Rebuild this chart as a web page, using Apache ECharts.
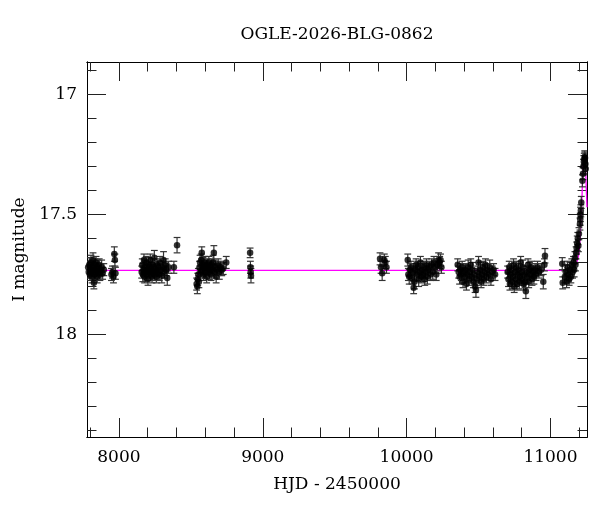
<!DOCTYPE html>
<html lang="en">
<head>
    <meta charset="UTF-8">
    <script src="https://cdn.jsdelivr.net/npm/echarts@6.0.0/dist/echarts.min.js"></script>
    <style>
        html, body { margin: 0; padding: 0; background: #fff; }
        #chart { width: 600px; height: 512px; }
    </style>
</head>
<body>
<div id="chart"></div>
<script>
    // photometry per season: [HJD - 2450000, I mag, error]
    var season1 = [
        [7786, 17.72, 0.025], [7790, 17.74, 0.025], [7794, 17.71, 0.03], [7798, 17.75, 0.025],
        [7802, 17.73, 0.025], [7806, 17.70, 0.03], [7809, 17.74, 0.025], [7813, 17.76, 0.025],
        [7817, 17.72, 0.025], [7820, 17.69, 0.03], [7824, 17.73, 0.025], [7826, 17.785, 0.025],
        [7830, 17.75, 0.025], [7834, 17.71, 0.025], [7837, 17.74, 0.03], [7841, 17.70, 0.025],
        [7845, 17.73, 0.025], [7849, 17.76, 0.025], [7853, 17.72, 0.03], [7858, 17.74, 0.025],
        [7863, 17.71, 0.025], [7868, 17.75, 0.025], [7874, 17.73, 0.025], [7880, 17.72, 0.03],
        [7887, 17.745, 0.025], [7895, 17.73, 0.025], [7948, 17.75, 0.025], [7955, 17.74, 0.025],
        [7962, 17.76, 0.025], [7968, 17.665, 0.03], [7972, 17.69, 0.025], [7976, 17.745, 0.025]
    ];
    var season2 = [
        [8158, 17.74, 0.025], [8162, 17.71, 0.025], [8166, 17.75, 0.03], [8170, 17.73, 0.025],
        [8174, 17.69, 0.025], [8178, 17.76, 0.025], [8182, 17.72, 0.03], [8186, 17.74, 0.025],
        [8190, 17.70, 0.025], [8194, 17.75, 0.025], [8198, 17.73, 0.025], [8202, 17.77, 0.025],
        [8206, 17.71, 0.03], [8210, 17.74, 0.025], [8214, 17.72, 0.025], [8218, 17.69, 0.025],
        [8222, 17.75, 0.025], [8226, 17.73, 0.03], [8230, 17.76, 0.025], [8234, 17.71, 0.025],
        [8238, 17.74, 0.025], [8242, 17.72, 0.025], [8246, 17.68, 0.03], [8250, 17.75, 0.025],
        [8255, 17.73, 0.025], [8260, 17.76, 0.025], [8265, 17.71, 0.025], [8270, 17.74, 0.03],
        [8275, 17.72, 0.025], [8280, 17.75, 0.025], [8286, 17.70, 0.025], [8292, 17.73, 0.025],
        [8298, 17.755, 0.03], [8304, 17.72, 0.025], [8310, 17.69, 0.035], [8316, 17.74, 0.025],
        [8322, 17.71, 0.025], [8328, 17.73, 0.025], [8336, 17.765, 0.03], [8345, 17.72, 0.025],
        [8382, 17.72, 0.025], [8404, 17.628, 0.032]
    ];
    var season3 = [
        [8540, 17.79, 0.025], [8545, 17.80, 0.03], [8548, 17.77, 0.025], [8552, 17.75, 0.025],
        [8556, 17.78, 0.025], [8560, 17.72, 0.025], [8564, 17.70, 0.03], [8568, 17.74, 0.025],
        [8572, 17.69, 0.025], [8576, 17.66, 0.025], [8580, 17.73, 0.025], [8584, 17.71, 0.03],
        [8588, 17.75, 0.025], [8592, 17.72, 0.025], [8596, 17.70, 0.025], [8600, 17.74, 0.025],
        [8605, 17.72, 0.03], [8610, 17.76, 0.025], [8615, 17.71, 0.025], [8620, 17.73, 0.025],
        [8625, 17.70, 0.025], [8630, 17.74, 0.03], [8635, 17.72, 0.025], [8640, 17.75, 0.025],
        [8645, 17.71, 0.025], [8650, 17.73, 0.025], [8655, 17.70, 0.03], [8660, 17.66, 0.03],
        [8665, 17.74, 0.025], [8670, 17.72, 0.025], [8676, 17.76, 0.025], [8682, 17.73, 0.025],
        [8690, 17.71, 0.025], [8698, 17.74, 0.03], [8706, 17.72, 0.025], [8715, 17.73, 0.025],
        [8725, 17.725, 0.025], [8746, 17.70, 0.025]
    ];
    var season4 = [
        [8912, 17.66, 0.02], [8914, 17.72, 0.025], [8916, 17.74, 0.025], [8918, 17.755, 0.03]
    ];
    var season5 = [
        [9815, 17.685, 0.025], [9822, 17.72, 0.025], [9830, 17.745, 0.03],
        [9845, 17.69, 0.025], [9852, 17.70, 0.025], [9860, 17.72, 0.025]
    ];
    var season6 = [
        [10008, 17.69, 0.025], [10012, 17.75, 0.025], [10018, 17.76, 0.03], [10024, 17.73, 0.025],
        [10030, 17.72, 0.025], [10038, 17.765, 0.025], [10044, 17.74, 0.025], [10049, 17.805, 0.025],
        [10055, 17.78, 0.03], [10060, 17.73, 0.025], [10066, 17.71, 0.025], [10072, 17.75, 0.025],
        [10078, 17.72, 0.025], [10084, 17.77, 0.03], [10090, 17.74, 0.025], [10096, 17.70, 0.025],
        [10102, 17.76, 0.025], [10108, 17.73, 0.025], [10114, 17.75, 0.03], [10120, 17.72, 0.025],
        [10126, 17.77, 0.025], [10132, 17.74, 0.025], [10138, 17.71, 0.025], [10144, 17.76, 0.03],
        [10150, 17.73, 0.025], [10158, 17.72, 0.025], [10166, 17.75, 0.025], [10174, 17.71, 0.025],
        [10182, 17.74, 0.03], [10190, 17.70, 0.025], [10198, 17.72, 0.025], [10206, 17.75, 0.025],
        [10214, 17.71, 0.025], [10222, 17.69, 0.03], [10230, 17.70, 0.025], [10236, 17.69, 0.025],
        [10242, 17.72, 0.025]
    ];
    var season7 = [
        [10355, 17.71, 0.025], [10362, 17.74, 0.025], [10368, 17.76, 0.03], [10374, 17.73, 0.025],
        [10380, 17.75, 0.025], [10386, 17.72, 0.025], [10392, 17.78, 0.025], [10398, 17.74, 0.03],
        [10404, 17.76, 0.025], [10410, 17.73, 0.025], [10416, 17.79, 0.025], [10422, 17.75, 0.025],
        [10428, 17.72, 0.03], [10434, 17.77, 0.025], [10440, 17.74, 0.025], [10446, 17.71, 0.025],
        [10452, 17.76, 0.025], [10458, 17.73, 0.03], [10464, 17.78, 0.025], [10470, 17.75, 0.025],
        [10476, 17.80, 0.025], [10482, 17.815, 0.03], [10488, 17.77, 0.025], [10494, 17.74, 0.025],
        [10500, 17.70, 0.025], [10506, 17.76, 0.025], [10512, 17.73, 0.03], [10518, 17.78, 0.025],
        [10524, 17.75, 0.025], [10530, 17.72, 0.025], [10536, 17.77, 0.025], [10542, 17.74, 0.03],
        [10548, 17.71, 0.025], [10555, 17.76, 0.025], [10562, 17.73, 0.025], [10570, 17.75, 0.025],
        [10578, 17.72, 0.03], [10586, 17.77, 0.025], [10595, 17.74, 0.025], [10605, 17.73, 0.025],
        [10615, 17.75, 0.025]
    ];
    var season8 = [
        [10702, 17.74, 0.025], [10708, 17.77, 0.03], [10713, 17.72, 0.025], [10718, 17.79, 0.025],
        [10723, 17.75, 0.025], [10728, 17.73, 0.025], [10733, 17.78, 0.03], [10738, 17.76, 0.025],
        [10743, 17.71, 0.025], [10748, 17.80, 0.025], [10753, 17.74, 0.025], [10758, 17.77, 0.03],
        [10763, 17.72, 0.025], [10768, 17.79, 0.025], [10773, 17.75, 0.025], [10778, 17.73, 0.025],
        [10783, 17.78, 0.03], [10788, 17.76, 0.025], [10793, 17.70, 0.025], [10798, 17.74, 0.025],
        [10803, 17.77, 0.025], [10808, 17.72, 0.03], [10813, 17.79, 0.025], [10818, 17.75, 0.025],
        [10823, 17.78, 0.025], [10829, 17.82, 0.03], [10834, 17.74, 0.025], [10839, 17.76, 0.025],
        [10844, 17.71, 0.025], [10849, 17.78, 0.025], [10854, 17.73, 0.03], [10860, 17.75, 0.025],
        [10866, 17.72, 0.025], [10872, 17.77, 0.025], [10878, 17.74, 0.025], [10885, 17.76, 0.03],
        [10892, 17.73, 0.025], [10900, 17.75, 0.025], [10910, 17.72, 0.025], [10920, 17.74, 0.025],
        [10935, 17.73, 0.025], [10950, 17.78, 0.03], [10958, 17.71, 0.025], [10962, 17.672, 0.03]
    ];
    var season9 = [
        [11082, 17.705, 0.025], [11085, 17.785, 0.025], [11100, 17.76, 0.025], [11106, 17.74, 0.03],
        [11112, 17.78, 0.025], [11118, 17.72, 0.025], [11124, 17.75, 0.025], [11130, 17.77, 0.025],
        [11136, 17.73, 0.03], [11142, 17.76, 0.025], [11148, 17.71, 0.025], [11154, 17.74, 0.025],
        [11160, 17.70, 0.025], [11165, 17.73, 0.03], [11170, 17.68, 0.025], [11174, 17.71, 0.025],
        [11178, 17.66, 0.025], [11182, 17.64, 0.025], [11186, 17.62, 0.03], [11190, 17.60, 0.025],
        [11194, 17.63, 0.025], [11198, 17.58, 0.025], [11205, 17.54, 0.025], [11207, 17.52, 0.025],
        [11209, 17.50, 0.03], [11211, 17.485, 0.025], [11214, 17.45, 0.025], [11222, 17.36, 0.025],
        [11226, 17.33, 0.025], [11229, 17.30, 0.03], [11232, 17.28, 0.025], [11235, 17.27, 0.025],
        [11238, 17.26, 0.025], [11240, 17.265, 0.025], [11243, 17.29, 0.03], [11245, 17.31, 0.025]
    ];

    // model curve
    var modelCurve = [
        [7778, 17.733], [11120, 17.733], [11158, 17.726], [11170, 17.718], [11181, 17.704],
        [11190, 17.685], [11199, 17.66], [11205, 17.61], [11210, 17.55], [11215, 17.49],
        [11219, 17.43], [11223, 17.36], [11226, 17.30], [11230, 17.27], [11234, 17.256],
        [11238, 17.26], [11242, 17.29], [11246, 17.34], [11250, 17.41], [11254, 17.47]
    ];

    // axis ticks
    var xMajorTicks = [8000, 9000, 10000, 11000];
    var xMinorTicks = [7800, 8200, 8400, 8600, 8800, 9200, 9400, 9600, 9800,
        10200, 10400, 10600, 10800, 11200];
    var yMajorTicks = [17, 17.5, 18];
    var yMinorTicks = [16.9, 17.1, 17.2, 17.3, 17.4, 17.6, 17.7, 17.8, 17.9,
        18.1, 18.2, 18.3, 18.4];

    var xMin = 7778, xMax = 11254;
    var yMin = 16.865, yMax = 18.427;

    var photometry = [].concat(season1, season2, season3, season4, season5,
        season6, season7, season8, season9);

    var chart = echarts.init(document.getElementById('chart'), null, {renderer: 'canvas'});
    var serif = 'DejaVu Serif';
    var black = '#000';

    function xAxisOf(pos, ticks, len, withLabel) {
        return {
            type: 'value', position: pos, min: xMin, max: xMax,
            axisLine: {show: true, onZero: false, lineStyle: {color: black, width: 1}},
            axisTick: {show: true, inside: true, length: len, customValues: ticks,
                lineStyle: {color: '#222', width: 1}},
            axisLabel: withLabel ? {show: true, customValues: xMajorTicks, margin: 12,
                fontFamily: serif, fontSize: 17, color: black,
                formatter: function (v) { return String(v); }} : {show: false},
            splitLine: {show: false},
            name: withLabel ? 'HJD - 2450000' : '',
            nameLocation: 'middle', nameGap: 39,
            nameTextStyle: {fontFamily: serif, fontSize: 17, color: black}
        };
    }

    function yAxisOf(pos, ticks, len, withLabel) {
        return {
            type: 'value', position: pos, min: yMin, max: yMax, inverse: true,
            axisLine: {show: true, onZero: false, lineStyle: {color: black, width: 1}},
            axisTick: {show: true, inside: true, length: len, customValues: ticks,
                lineStyle: {color: '#222', width: 1}},
            axisLabel: withLabel ? {show: true, customValues: yMajorTicks, margin: 10,
                fontFamily: serif, fontSize: 17, color: black,
                formatter: function (v) { return String(v); }} : {show: false},
            splitLine: {show: false},
            name: withLabel ? 'I magnitude' : '',
            nameLocation: 'middle', nameGap: 56, nameRotate: 90,
            nameTextStyle: {fontFamily: serif, fontSize: 17, color: black}
        };
    }

    var option = {
        backgroundColor: '#fff',
        animation: false,
        grid: {left: 87, right: 13, top: 62, bottom: 75, containLabel: false},
        graphic: [{
            type: 'text', x: 337, y: 26,
            style: {text: 'OGLE-2026-BLG-0862', textAlign: 'center', textVerticalAlign: 'top',
                fontFamily: serif, fontSize: 17, fill: black}
        }],
        xAxis: [
            xAxisOf('bottom', xMajorTicks, 19, true),
            xAxisOf('bottom', xMinorTicks, 9.5, false),
            xAxisOf('top', xMajorTicks, 19, false),
            xAxisOf('top', xMinorTicks, 9.5, false)
        ],
        yAxis: [
            yAxisOf('left', yMajorTicks, 19, true),
            yAxisOf('left', yMinorTicks, 9.5, false),
            yAxisOf('right', yMajorTicks, 19, false),
            yAxisOf('right', yMinorTicks, 9.5, false)
        ],
        series: [
            {
                type: 'line', data: modelCurve, xAxisIndex: 0, yAxisIndex: 0,
                showSymbol: false, symbol: 'none', clip: true, z: 1,
                lineStyle: {color: '#ff00ff', width: 1.3}
            },
            {
                type: 'custom', data: photometry, xAxisIndex: 0, yAxisIndex: 0, z: 2,
                clip: true,
                renderItem: function (params, api) {
                    var x = api.value(0), m = api.value(1), e = api.value(2);
                    var p1 = api.coord([x, m - e]);
                    var p2 = api.coord([x, m + e]);
                    var cap = 3.4;
                    var style = {stroke: '#333', lineWidth: 1.2};
                    return {
                        type: 'group',
                        children: [
                            {type: 'line', shape: {x1: p1[0], y1: p1[1], x2: p2[0], y2: p2[1]}, style: style},
                            {type: 'line', shape: {x1: p1[0] - cap, y1: p1[1], x2: p1[0] + cap, y2: p1[1]}, style: style},
                            {type: 'line', shape: {x1: p2[0] - cap, y1: p2[1], x2: p2[0] + cap, y2: p2[1]}, style: style}
                        ]
                    };
                }
            },
            {
                type: 'scatter', xAxisIndex: 0, yAxisIndex: 0, z: 3,
                data: photometry.map(function (d) { return [d[0], d[1]]; }),
                symbol: 'circle', symbolSize: 6.5, clip: true,
                itemStyle: {color: black}
            }
        ]
    };
    chart.setOption(option);
</script>
</body>
</html>
